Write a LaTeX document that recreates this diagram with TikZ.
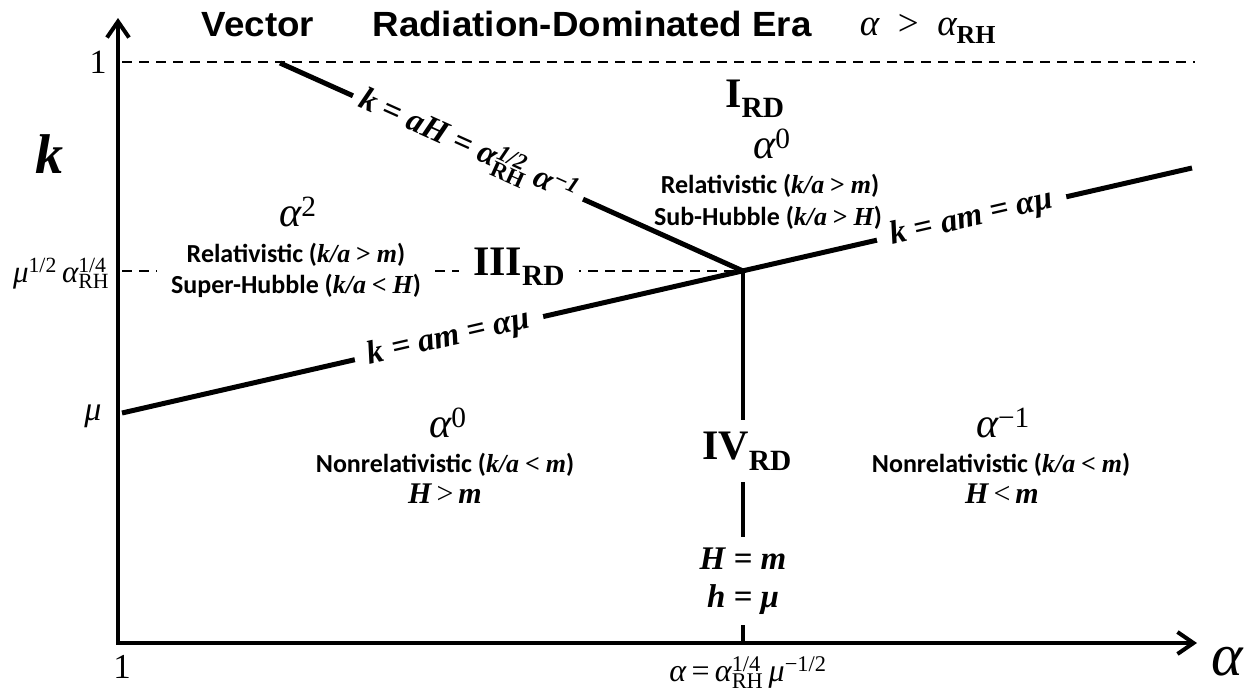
\documentclass[tikz,border=0pt]{standalone}
\usepackage{fontspec}
\setmainfont{Liberation Serif}
\newfontfamily\arialf{Liberation Sans}
\newfontfamily\calibf{Carlito}
\usepackage{graphicx}
\usetikzlibrary{arrows.meta}
\makeatletter
\newcommand\SP[1]{\ensuremath{^{\mbox{\fontsize\sf@size\z@\selectfont #1}}}}
\newcommand\SB[1]{\ensuremath{_{\mbox{\fontsize\sf@size\z@\selectfont #1}}}}
\newcommand\SPSB[2]{\ensuremath{^{\mbox{\fontsize\sf@size\z@\selectfont #1}}_{\mbox{\fontsize\sf@size\z@\selectfont #2}}}}
\makeatother
\newcommand\bi{\rmfamily\bfseries\itshape}
\newcommand\fs[1]{\fontsize{#1}{#1}\selectfont}
\begin{document}
\begin{tikzpicture}[x=1pt,y=-1pt,
  thickln/.style={line width=5pt},
  vertln/.style={line width=4.5pt},
  axisln/.style={line width=4pt},
  dashln/.style={line width=2.5pt, dash pattern=on 10pt off 7pt},
  gap/.style={fill=white, inner sep=0pt},
  txt/.style={inner sep=0pt, anchor=base},
  regtxt/.style={txt, font=\calibf\bfseries\fs{26}},
  greek/.style={txt, font=\fs{42}},
  roman/.style={txt, font=\bfseries\fs{42}},
  eqlab/.style={gap, sloped, font=\bi\fs{33}},
  titletxt/.style={txt, font=\arialf\bfseries\fs{35}},
]
\useasboundingbox (0,0) rectangle (1252,694);
\fill[white] (0,0) rectangle (1252,694);

% axes
\coordinate (O) at (118,643);
\coordinate (Ytop) at (118,18);
\coordinate (Xend) at (1197,643);
\draw[axisln, {Straight Barb[length=16pt,width=22pt]}-{Straight Barb[length=16pt,width=22pt]}] (Ytop) -- (O) -- (Xend);

% dashed lines
\coordinate (T0) at (122,62);
\coordinate (T1) at (1195,62);
\draw[dashln] (T0) -- (T1);

\coordinate (J) at (743,271);
\coordinate (D0) at (122,271);
\coordinate (D1) at (157,271);
\coordinate (D2) at (435,271);
\draw[dashln] (D0) -- (D1);
\draw[dashln] (D2) -- (J);

% boundary lines
\coordinate (A) at (280,63);
\coordinate (L) at (122,413);
\coordinate (R) at (1192,168);
\coordinate (B) at (743,643);

\draw[thickln] (A) -- node[eqlab, pos=0.406, minimum width=252pt] (lblaH)
  {k = aH = α\SPSB{1/2}{\upshape RH} α\SP{−1}} (J);
\draw[thickln] (L) -- node[eqlab, pos=0.3056, minimum width=193pt] (lblamL) {k = am = αμ}
  node[eqlab, pos=0.794, minimum width=194pt] (lblamR) {k = am = αμ} (R);
\draw[vertln] (J) -- node[gap, pos=0.485, minimum height=62pt, font=\bfseries\fs{42}] (IV) {\hspace*{8pt}IV\SB{RD}}
  node[gap, pos=0.834, minimum height=88pt, align=center, font=\bi\fs{33}] (Hm) {H = m\\[5pt]h = μ} (B);

% region III label (covers dashed line)
\node[roman, fill=white, inner xsep=14pt] (III) at (519,275) {III\SB{RD}};

% title
\node[titletxt] (vec) at (258,36) {\scalebox{1.05}[1]{Vector}};
\node[titletxt] (rde) at (592,36) {\scalebox{1.05}[1]{Radiation-Dominated Era}};
\node[txt, font=\fs{37}] (cond) at (928,35) {{\itshape α}\ \ >\ \ {\itshape α}\SB{\bfseries RH}};

% axis labels
\node[txt, font=\fs{34}] (onek) at (98,73) {1};
\node[txt, font=\bi\fs{56}] (klab) at (49,173) {k};
\node[txt, font=\fs{31}] (mulab) at (61,282) {{\itshape μ}\SP{1/2}\,{\itshape α}\SPSB{1/4}{RH}};
\node[txt, font=\fs{34}] (mu) at (93,420) {\itshape μ};
\node[txt, font=\fs{35}] (onea) at (122,678) {1};
\node[txt, font=\itshape\fs{60}] (alx) at (1227,675) {α};
\node[txt, font=\fs{32}] (alval) at (748,681) {{\itshape α}\,=\,{\itshape α}\SPSB{1/4}{RH}\,{\itshape μ}\SP{−1/2}};

% region I
\node[roman] (Ird) at (755,107) {I\SB{RD}};
\node[greek] (a0top) at (772,158) {{\itshape α}\SP{0}};
\node[regtxt] (relI) at (770,193) {Relativistic ({\bi k/a} {\rmfamily >} {\bi m})};
\node[regtxt] (subI) at (768,225) {Sub-Hubble ({\bi k/a} {\rmfamily >} {\bi H})};

% region III
\node[greek] (a2) at (298,226) {{\itshape α}\SP{2}};
\node[regtxt] (relL) at (296,262) {Relativistic ({\bi k/a} {\rmfamily >} {\bi m})};
\node[regtxt] (supL) at (296,293) {Super-Hubble ({\bi k/a} {\rmfamily <} {\bi H})};

% lower-left region
\node[greek] (a0low) at (448,437) {{\itshape α}\SP{0}};
\node[regtxt] (nrL) at (445,472) {Nonrelativistic ({\bi k/a} {\rmfamily <} {\bi m})};
\node[txt, font=\fs{30}] (HgL) at (445,503) {{\bi H}\,>\,{\bi m}};

% lower-right region
\node[greek] (am1) at (1003,437) {{\itshape α}\SP{−1}};
\node[regtxt] (nrR) at (1001,472) {Nonrelativistic ({\bi k/a} {\rmfamily <} {\bi m})};
\node[txt, font=\fs{30}] (HlR) at (1002,503) {{\bi H}\,<\,{\bi m}};
\end{tikzpicture}
\end{document}
